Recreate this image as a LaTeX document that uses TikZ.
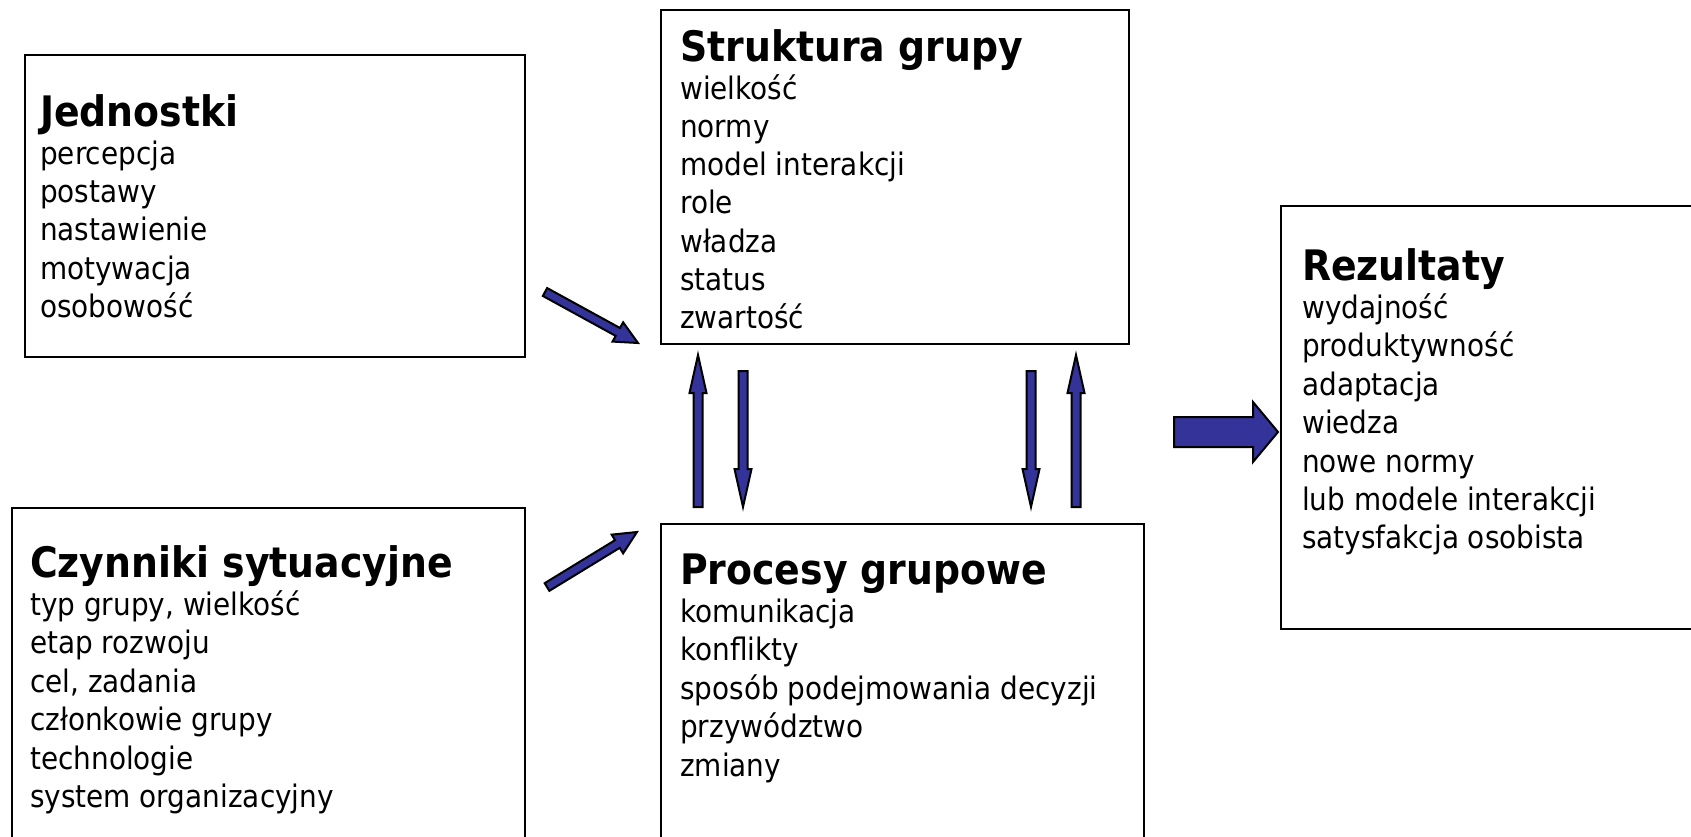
\documentclass[tikz,border=0pt]{standalone}
\usepackage{fontspec}
\setmainfont[FakeStretch=0.9]{DejaVu Sans}
\usetikzlibrary{calc}

\definecolor{arrowblue}{RGB}{51,51,153}

\tikzset{
  panel/.style={draw=black, line width=1.6pt, inner sep=0pt, anchor=north west},
  ttl/.style={anchor=base west, inner sep=0pt, font=\fontsize{42}{45}\selectfont\bfseries},
  itm/.style={anchor=base west, inner sep=0pt, font=\fontsize{31}{34}\selectfont},
  blockarrow/.style={fill=arrowblue, draw=black, line width=2pt, line join=miter},
}

% block arrow: #1 tail, #2 tip, #3 shaft half width, #4 head half width, #5 head length
\newcommand{\blockarrow}[5]{%
  \coordinate (hb) at ($(#2)!#5!(#1)$);
  \draw[blockarrow]
    ($(#1)!#3!90:(#2)$) -- ($(hb)!#3!90:(#2)$) -- ($(hb)!#4!90:(#2)$) --
    (#2) --
    ($(hb)!#4!-90:(#2)$) -- ($(hb)!#3!-90:(#2)$) -- ($(#1)!#3!-90:(#2)$) -- cycle;
}

\begin{document}
\begin{tikzpicture}[x=1pt, y=-1pt]
  \useasboundingbox (0,0) rectangle (1691,836);
  \clip (0,0) rectangle (1691,836);

  % panels
  \node[panel, minimum width=500pt, minimum height=302pt] (jed) at (24,54) {};
  \node[panel, minimum width=468pt, minimum height=334pt] (str) at (660,9) {};
  \node[panel, minimum width=430pt, minimum height=423pt] (rez) at (1280,205) {};
  \node[panel, minimum width=513pt, minimum height=360pt] (czy) at (11,507) {};
  \node[panel, minimum width=483pt, minimum height=340pt] (pro) at (660,523) {};

  % Jednostki
  \node[ttl] (jed-t) at (40,126) {Jednostki};
  \foreach \s [count=\i] in {percepcja,postawy,nastawienie,motywacja,osobowość}
    \node[itm] (jed-\i) at (40,{126+38.3*\i}) {\s};

  % Struktura grupy
  \node[ttl] (str-t) at (680,61) {Struktura grupy};
  \foreach \s [count=\i] in {wielkość,normy,model interakcji,role,władza,status,zwartość}
    \node[itm] (str-\i) at (680,{61+38.2*\i}) {\s};

  % Rezultaty
  \node[ttl] (rez-t) at (1302,280) {Rezultaty};
  \foreach \s [count=\i] in {wydajność,produktywność,adaptacja,wiedza,nowe normy,lub modele interakcji,satysfakcja osobista}
    \node[itm] (rez-\i) at (1302,{280+38.4*\i}) {\s};

  % Czynniki sytuacyjne
  \node[ttl] (czy-t) at (30,577) {Czynniki sytuacyjne};
  \foreach \s [count=\i] in {{typ grupy, wielkość},etap rozwoju,{cel, zadania},członkowie grupy,technologie,system organizacyjny}
    \node[itm] (czy-\i) at (30,{577+38.4*\i}) {\s};

  % Procesy grupowe
  \node[ttl] (pro-t) at (680,584) {Procesy grupowe};
  \foreach \s [count=\i] in {komunikacja,konflikty,sposób podejmowania decyzji,przywództwo,zmiany}
    \node[itm] (pro-\i) at (680,{584+38.4*\i}) {\s};

  % arrow end points
  \coordinate (d1a) at (545,292);  \coordinate (d1b) at (638,343);
  \coordinate (d2a) at (547,587);  \coordinate (d2b) at (637,532);
  \coordinate (u1a) at (698,507);  \coordinate (u1b) at (698,355);
  \coordinate (v1a) at (743,371);  \coordinate (v1b) at (743,507);
  \coordinate (v2a) at (1031,371); \coordinate (v2b) at (1031,507);
  \coordinate (u2a) at (1076,507); \coordinate (u2b) at (1076,355);
  \coordinate (ra) at (1174,432);  \coordinate (rb) at (1278,432);

  % arrows
  \blockarrow{d1a}{d1b}{4.5pt}{11pt}{23pt}
  \blockarrow{d2a}{d2b}{4.5pt}{11pt}{23pt}
  \blockarrow{u1a}{u1b}{4.5pt}{8.5pt}{38pt}
  \blockarrow{v1a}{v1b}{4.5pt}{8.5pt}{38pt}
  \blockarrow{v2a}{v2b}{4.5pt}{8.5pt}{38pt}
  \blockarrow{u2a}{u2b}{4.5pt}{8.5pt}{38pt}
  \blockarrow{ra}{rb}{15pt}{30pt}{25pt}
\end{tikzpicture}
\end{document}
